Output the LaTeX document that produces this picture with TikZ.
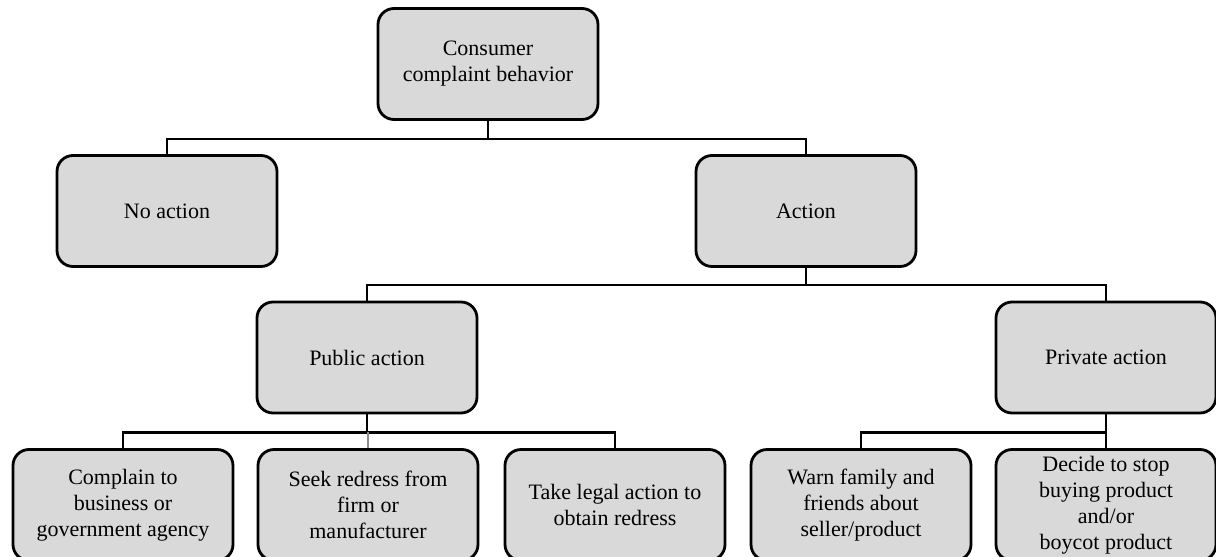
\documentclass[tikz,border=0pt]{standalone}
\usepackage{fontspec}
\setmainfont{Liberation Serif}
\usetikzlibrary{calc}
\definecolor{boxfill}{RGB}{217,217,217}
\tikzset{
  box/.style={draw=black, line width=2.8pt, fill=boxfill, rounded corners=16pt,
    minimum width=220pt, minimum height=111pt, inner sep=2pt, align=center,
    font=\fontsize{22}{26}\selectfont},
  link/.style={draw=black, line width=2.3pt},
  greylink/.style={draw=black!45, line width=2.3pt},
}
\begin{document}
\begin{tikzpicture}[x=1pt,y=-1pt]
\useasboundingbox (0,0) rectangle (1216,557);
\clip (0,0) rectangle (1216,557);

% top level
\node[box] (root) at (488,64) {Consumer\\complaint behavior};

% second level
\node[box] (noact) at (167,211) {No action};
\node[box] (act) at (806,211) {Action};

% third level
\node[box] (pub) at (367,357.5) {Public action};
\node[box] (priv) at (1106,357.5) {Private action};

% leaves
\node[box] (c1) at (123,505) {Complain to\\business or\\government agency};
\node[box] (c2) at (368,505) {Seek redress from\\firm or\\manufacturer};
\node[box] (c3) at (615,505) {Take legal action to\\obtain redress};
\node[box] (c4) at (861,505) {Warn family and\\friends about\\seller/product};
\node[box] (c5) at (1106,505) {Decide to stop\\buying product\\and/or\\boycot product};

% connectors
\draw[link] (root.south) -- ++(0,18) coordinate (j1);
\draw[link] (noact.north) |- (j1) -| (act.north);

\draw[link] (act.south) -- ++(0,17) coordinate (j2);
\draw[link] (pub.north) |- (j2) -| (priv.north);

\draw[link] (pub.south) -- ++(0,18) coordinate (j3);
\draw[link] (c1.north) |- (j3) -| (c3.north);
\draw[greylink] (c2.north) -- (c2.north |- j3);

\draw[link] (priv.south) -- ++(0,18) coordinate (j4);
\draw[link] (c4.north) |- (j4) -| (c5.north);
\end{tikzpicture}
\end{document}
